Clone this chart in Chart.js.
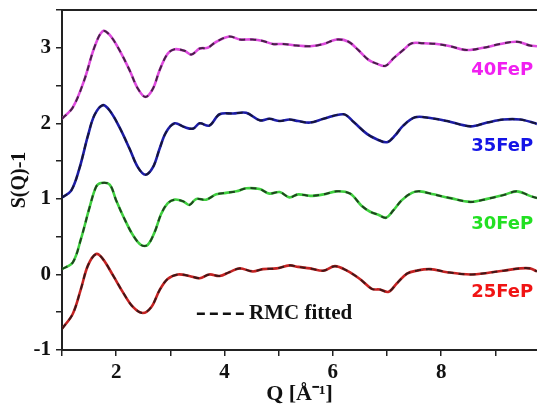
<!DOCTYPE html>
<html>
<head>
<meta charset="utf-8">
<script src="https://cdn.jsdelivr.net/npm/chart.js@4.4.0/dist/chart.umd.min.js"></script>
<style>
  html, body { margin: 0; padding: 0; background: #fff; }
  #wrap { width: 537px; height: 406px; position: relative; }
</style>
</head>
<body>
<div id="wrap"><canvas id="sqChart"></canvas></div>
<script>
// S(Q)-1 curves, each shifted up by 1 per sample
const q40 = [1.0, 1.2, 1.41, 1.6, 1.75, 1.88, 2.06, 2.25, 2.4, 2.54, 2.68, 2.8, 2.95, 3.08, 3.26, 3.39, 3.54, 3.69, 3.85, 4.09, 4.28, 4.52, 4.71, 4.89, 5.08, 5.33, 5.58, 5.83, 6.07, 6.29, 6.47, 6.66, 6.81, 6.97, 7.12, 7.3, 7.46, 7.67, 7.92, 8.17, 8.47, 8.78, 9.09, 9.4, 9.64, 9.77];
const s40 = [2.06, 2.21, 2.57, 3.01, 3.22, 3.17, 2.97, 2.70, 2.46, 2.35, 2.46, 2.70, 2.92, 2.98, 2.96, 2.91, 2.99, 3.00, 3.08, 3.15, 3.11, 3.11, 3.09, 3.05, 3.05, 3.03, 3.02, 3.05, 3.11, 3.08, 2.97, 2.84, 2.79, 2.76, 2.86, 2.97, 3.06, 3.06, 3.05, 3.02, 2.97, 3.00, 3.05, 3.08, 3.03, 3.02];

const q35 = [1.0, 1.17, 1.32, 1.48, 1.6, 1.75, 1.88, 2.06, 2.25, 2.4, 2.54, 2.68, 2.8, 2.92, 3.08, 3.26, 3.42, 3.54, 3.72, 3.91, 4.16, 4.4, 4.65, 4.83, 5.02, 5.2, 5.36, 5.58, 5.83, 6.2, 6.38, 6.63, 6.81, 7.0, 7.15, 7.3, 7.52, 7.8, 8.11, 8.54, 8.85, 9.15, 9.46, 9.74, 9.77];
const s35 = [1.02, 1.11, 1.40, 1.84, 2.11, 2.24, 2.17, 1.95, 1.66, 1.42, 1.32, 1.42, 1.66, 1.88, 2.00, 1.95, 1.93, 2.00, 1.97, 2.12, 2.13, 2.14, 2.04, 2.06, 2.03, 2.05, 2.03, 2.01, 2.06, 2.12, 2.02, 1.86, 1.79, 1.75, 1.84, 1.97, 2.08, 2.07, 2.03, 1.96, 2.01, 2.05, 2.05, 2.00, 1.99];

const q30 = [1.0, 1.2, 1.35, 1.51, 1.63, 1.72, 1.88, 2.0, 2.15, 2.31, 2.46, 2.58, 2.71, 2.83, 2.95, 3.08, 3.23, 3.35, 3.48, 3.66, 3.85, 4.03, 4.22, 4.4, 4.65, 4.83, 5.02, 5.2, 5.36, 5.58, 5.83, 6.07, 6.32, 6.53, 6.69, 6.84, 6.98, 7.12, 7.27, 7.46, 7.61, 7.86, 8.17, 8.54, 8.85, 9.15, 9.4, 9.64, 9.77];
const s30 = [0.07, 0.16, 0.47, 0.89, 1.16, 1.21, 1.19, 0.98, 0.74, 0.52, 0.39, 0.39, 0.56, 0.80, 0.94, 0.99, 0.97, 0.92, 1.00, 0.99, 1.06, 1.08, 1.10, 1.14, 1.13, 1.07, 1.09, 1.02, 1.06, 1.04, 1.06, 1.10, 1.07, 0.91, 0.83, 0.79, 0.75, 0.85, 0.98, 1.08, 1.10, 1.06, 1.01, 0.96, 1.00, 1.05, 1.10, 1.04, 1.01];

const q25 = [1.0, 1.2, 1.35, 1.48, 1.63, 1.75, 1.94, 2.12, 2.31, 2.49, 2.65, 2.8, 2.95, 3.14, 3.35, 3.54, 3.72, 3.91, 4.09, 4.28, 4.52, 4.71, 4.96, 5.2, 5.36, 5.58, 5.83, 6.04, 6.26, 6.5, 6.72, 6.87, 7.03, 7.18, 7.37, 7.55, 7.8, 8.11, 8.54, 8.85, 9.15, 9.46, 9.64, 9.77];
const s25 = [-0.72, -0.52, -0.19, 0.12, 0.27, 0.21, -0.01, -0.23, -0.43, -0.51, -0.43, -0.21, -0.06, 0.00, -0.02, -0.05, 0.00, -0.02, 0.03, 0.08, 0.04, 0.07, 0.08, 0.12, 0.10, 0.08, 0.05, 0.11, 0.05, -0.06, -0.19, -0.20, -0.23, -0.12, 0.01, 0.05, 0.07, 0.03, 0.00, 0.02, 0.05, 0.08, 0.08, 0.04];

const sampleNames = ['40FeP', '35FeP', '30FeP', '25FeP'];
const sampleQ = [q40, q35, q30, q25];
const sampleS = [s40, s35, s30, s25];
const fitLabel = 'RMC fitted';

const lineColors = ['#de4ade', '#1c1ca6', '#3fd03f', '#c42222'];
const textColors = ['#f020f0', '#1414e6', '#22e022', '#f01414'];

function toPoints(qs, ss) {
  return qs.map((q, i) => ({ x: q, y: ss[i] }));
}

const datasets = [];
sampleNames.forEach((name, i) => {
  const pts = toPoints(sampleQ[i], sampleS[i]);
  // experimental curve
  datasets.push({
    label: name,
    data: pts,
    borderColor: lineColors[i],
    borderWidth: 2.6,
    pointRadius: 0,
    tension: 0.35,
    order: 2
  });
  // RMC fit drawn on top as black dashes
  datasets.push({
    label: name + ' ' + fitLabel,
    data: pts,
    borderColor: 'rgba(20, 20, 20, 0.75)',
    borderWidth: 2,
    borderDash: [6, 5],
    pointRadius: 0,
    tension: 0.35,
    order: 1
  });
});

// frame top line, sample names and the fit legend
const annotate = {
  id: 'annotate',
  afterDatasetsDraw(chart) {
    const { ctx, chartArea, scales } = chart;
    const xs = scales.x, ys = scales.y;
    ctx.save();
    ctx.strokeStyle = '#222';
    ctx.lineWidth = 2;
    ctx.beginPath();
    ctx.moveTo(chartArea.left - 1, chartArea.top);
    ctx.lineTo(chartArea.right, chartArea.top);
    ctx.stroke();

    const namePos = [2.70, 1.69, 0.66, -0.24];
    ctx.font = 'bold 18px "DejaVu Sans"';
    ctx.textAlign = 'right';
    ctx.textBaseline = 'middle';
    sampleNames.forEach((name, i) => {
      ctx.fillStyle = textColors[i];
      ctx.fillText(name, xs.getPixelForValue(9.7), ys.getPixelForValue(namePos[i]));
    });

    const ly = ys.getPixelForValue(-0.52);
    const lx0 = xs.getPixelForValue(3.49);
    const lx1 = xs.getPixelForValue(4.38);
    ctx.strokeStyle = '#111';
    ctx.lineWidth = 2.5;
    ctx.setLineDash([8, 5]);
    ctx.beginPath();
    ctx.moveTo(lx0, ly);
    ctx.lineTo(lx1, ly);
    ctx.stroke();
    ctx.setLineDash([]);
    ctx.fillStyle = '#111';
    ctx.textAlign = 'left';
    ctx.font = 'bold 21px "Liberation Serif"';
    ctx.fillText(fitLabel, lx1 + 4, ly);
    ctx.restore();
  }
};

const serif = { family: '"Liberation Serif", serif', weight: 'bold' };

new Chart(document.getElementById('sqChart'), {
  type: 'line',
  data: { datasets: datasets },
  options: {
    responsive: true,
    maintainAspectRatio: false,
    animation: false,
    layout: { padding: { top: 10, right: 0, left: 0, bottom: 0 } },
    plugins: {
      legend: { display: false },
      tooltip: { enabled: false }
    },
    scales: {
      x: {
        type: 'linear',
        min: 1,
        max: 9.77,
        afterFit: function(scale) {
          scale.height = 56;
          scale.paddingLeft = 0;
          scale.paddingRight = 0;
        },
        border: { color: '#222', width: 2 },
        grid: { drawOnChartArea: false, tickLength: 6, color: '#222', lineWidth: 1.5 },
        ticks: {
          stepSize: 1,
          includeBounds: false,
          autoSkip: false,
          maxRotation: 0,
          padding: 4,
          color: '#111',
          font: { ...serif, size: 21 },
          callback: function(v) { return v % 2 === 0 ? v : ''; }
        },
        title: {
          display: true,
          text: 'Q [Å⁻¹]',
          color: '#111',
          font: { ...serif, size: 22, lineHeight: 1 },
          padding: { top: 0, bottom: 1 }
        }
      },
      y: {
        min: -1,
        max: 3.5,
        afterFit: function(scale) {
          scale.width = 62;
          scale.paddingTop = 0;
          scale.paddingBottom = 0;
        },
        border: { color: '#222', width: 2 },
        grid: { drawOnChartArea: false, tickLength: 6, color: '#222', lineWidth: 1.5 },
        ticks: {
          stepSize: 0.5,
          autoSkip: false,
          padding: 5,
          color: '#111',
          font: { ...serif, size: 21 },
          callback: function(v) { return Number.isInteger(v) ? v : ''; }
        },
        title: {
          display: true,
          text: 'S(Q)-1',
          color: '#111',
          font: { ...serif, size: 20 },
          padding: { top: 8, bottom: 0 }
        }
      }
    }
  },
  plugins: [annotate]
});
</script>
</body>
</html>
